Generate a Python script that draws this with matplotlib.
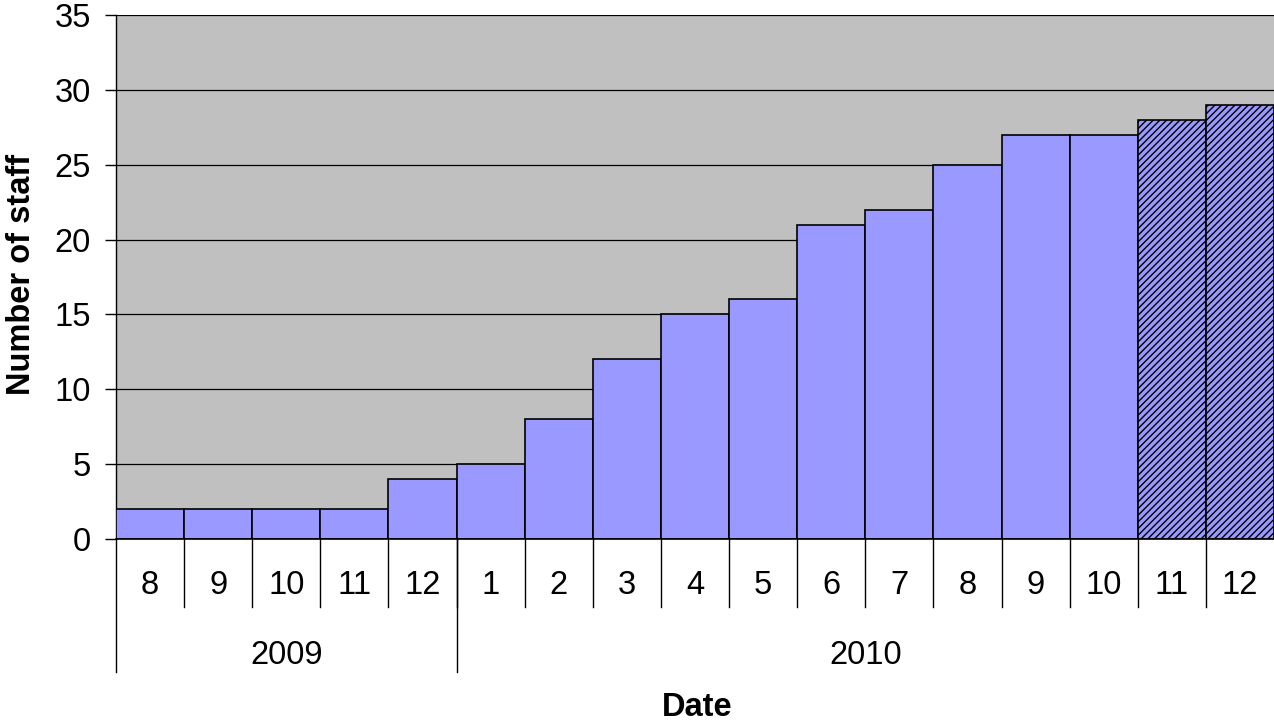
import matplotlib
matplotlib.use("Agg")
import matplotlib.pyplot as plt
import matplotlib.transforms as mtransforms

# staff headcount per month
months = ["8", "9", "10", "11", "12", "1", "2", "3", "4", "5", "6", "7", "8", "9", "10", "11", "12"]
years = ["2009", "2010"]
months_per_year = [5, 12]
staff = [2, 2, 2, 2, 4, 5, 8, 12, 15, 16, 21, 22, 25, 27, 27, 28, 29]
forecast = [False] * 15 + [True, True]

plt.rcParams["font.family"] = ["Liberation Sans", "DejaVu Sans"]
plt.rcParams["hatch.linewidth"] = 1.0

fs = 23.5

fig = plt.figure(figsize=(12.74, 7.24), dpi=100)
ax = fig.add_axes([116 / 1274, 185 / 724, 1158 / 1274, 524 / 724])
ax.set_facecolor("#C0C0C0")

x = list(range(len(staff)))
bars = ax.bar(x, staff, width=1.0, color="#9999FF", edgecolor="black", linewidth=1.2, zorder=3)
for b, f in zip(bars, forecast):
    if f:
        b.set_hatch("/////")

ax.set_xlim(-0.5, len(staff) - 0.5)
ax.set_ylim(0, 35)
ax.set_yticks(range(0, 36, 5))
ax.grid(axis="y", color="black", linewidth=0.9, zorder=0)
ax.set_axisbelow(True)

for s in ["top", "right", "bottom"]:
    ax.spines[s].set_visible(False)
ax.spines["left"].set_linewidth(1.0)

ax.tick_params(axis="y", length=8, width=1, labelsize=fs, pad=10)
ax.set_xticks([])

# two-level category axis below the plot
trans = mtransforms.blended_transform_factory(ax.transData, ax.transAxes)
ax.plot([-0.5, len(staff) - 0.5], [0, 0], color="black", lw=1.2, transform=trans, clip_on=False, zorder=4)

for i in range(1, len(staff)):
    ax.plot([i - 0.5, i - 0.5], [0, -68 / 524], color="black", lw=1.0, transform=trans, clip_on=False)
for i, m in enumerate(months):
    ax.text(i, -46 / 524, m, transform=trans, ha="center", va="center", fontsize=fs)

start = 0
for yr, n in zip(years, months_per_year):
    ax.plot([start - 0.5, start - 0.5], [0, -133 / 524], color="black", lw=1.0, transform=trans, clip_on=False)
    ax.text(start + (n - 1) / 2, -116 / 524, yr, transform=trans, ha="center", va="center", fontsize=fs)
    start += n

fig.text(30 / 1274, 1 - 274 / 724, "Number of staff", rotation=90, rotation_mode="anchor",
         ha="center", va="baseline", fontsize=fs, fontweight="bold")
fig.text(697 / 1274, 1 - 716 / 724, "Date", ha="center", va="baseline", fontsize=fs, fontweight="bold")

fig.savefig("out.png", dpi=100)
